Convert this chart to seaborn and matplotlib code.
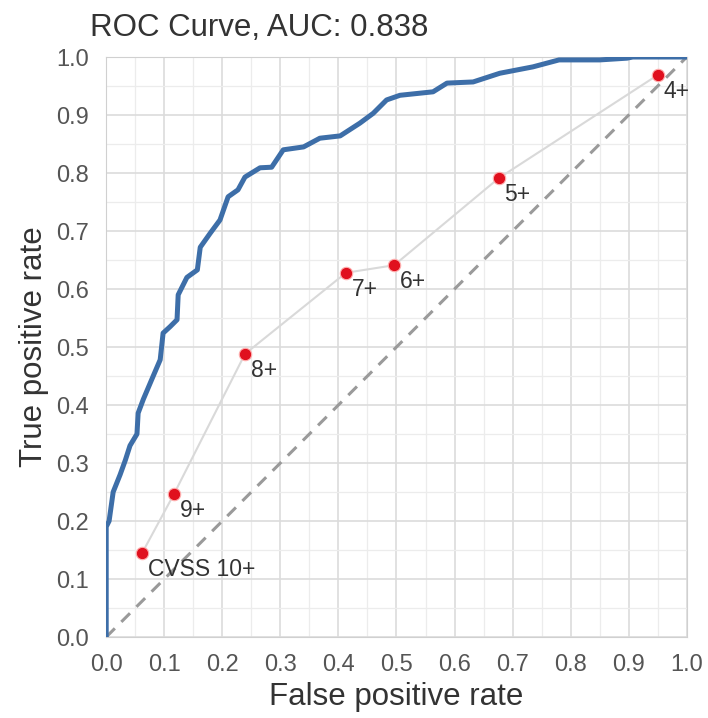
import numpy as np
import pandas as pd
import seaborn as sns
import matplotlib.pyplot as plt
from matplotlib.ticker import MultipleLocator

# ROC curve
fpr = [0, 0, 0.005, 0.012, 0.024, 0.033, 0.041, 0.053, 0.055, 0.064, 0.081, 0.093,
       0.098, 0.11, 0.122, 0.124, 0.139, 0.157, 0.162, 0.179, 0.196, 0.21, 0.227,
       0.239, 0.265, 0.285, 0.305, 0.34, 0.368, 0.403, 0.437, 0.46, 0.483, 0.506,
       0.563, 0.587, 0.632, 0.678, 0.735, 0.78, 0.85, 0.897, 0.907, 1.0]
tpr = [0, 0.19, 0.2, 0.25, 0.28, 0.305, 0.33, 0.35, 0.386, 0.41, 0.45, 0.478,
       0.524, 0.535, 0.547, 0.59, 0.62, 0.633, 0.672, 0.696, 0.719, 0.759, 0.771,
       0.793, 0.809, 0.81, 0.84, 0.845, 0.86, 0.864, 0.886, 0.903, 0.926, 0.934,
       0.94, 0.955, 0.957, 0.972, 0.983, 0.995, 0.995, 0.998, 1.0, 1.0]

# CVSS threshold points
cvss_labels = ['CVSS 10+', '9+', '8+', '7+', '6+', '5+', '4+']
cvss_fpr = [0.062, 0.117, 0.239, 0.413, 0.496, 0.676, 0.95]
cvss_tpr = [0.145, 0.247, 0.488, 0.628, 0.641, 0.791, 0.969]

auc = 0.838

sns.set_style('whitegrid')
plt.rcParams['font.family'] = ['Liberation Sans', 'DejaVu Sans']

fig = plt.figure(figsize=(7.08, 7.18), dpi=100)
ax = fig.add_axes([0.150, 0.1128, 0.820, 0.8078])

ax.xaxis.set_major_locator(MultipleLocator(0.1))
ax.yaxis.set_major_locator(MultipleLocator(0.1))
ax.xaxis.set_minor_locator(MultipleLocator(0.05))
ax.yaxis.set_minor_locator(MultipleLocator(0.05))
ax.grid(which='major', color='#dcdcdc', linewidth=1.2)
ax.grid(which='minor', color='#ececec', linewidth=0.9)
ax.set_axisbelow(True)

ax.plot([0, 1], [0, 1], color='#9a9a9a', linestyle=(0, (4, 3)), linewidth=2.2)

cvss = pd.DataFrame({'fpr': cvss_fpr, 'tpr': cvss_tpr, 'label': cvss_labels})
ax.plot(cvss['fpr'], cvss['tpr'], color='#d9d9d9', linewidth=1.5, zorder=2)

roc = pd.DataFrame({'fpr': fpr, 'tpr': tpr})
sns.lineplot(data=roc, x='fpr', y='tpr', sort=False, estimator=None, ax=ax,
             color='#3d6ea8', linewidth=3.6, zorder=3)

sns.scatterplot(data=cvss, x='fpr', y='tpr', ax=ax, color='#e0101e', s=80,
                edgecolor='#ffb0b0', linewidth=0.8, zorder=4)
for _, r in cvss.iterrows():
    ax.annotate(r['label'], (r['fpr'], r['tpr']), xytext=(4, -12),
                textcoords='offset points', fontsize=16.5, color='#333333',
                va='center', ha='left')

ax.set_xlim(0, 1)
ax.set_ylim(0, 1)
ax.tick_params(axis='both', labelsize=17, labelcolor='#555555', pad=9)
ax.set_xlabel('False positive rate', fontsize=22.5, color='#333333', labelpad=4)
ax.set_ylabel('True positive rate', fontsize=22.5, color='#333333', labelpad=5)
ax.set_title('ROC Curve, AUC: %.3f' % auc, loc='left', x=-0.028, fontsize=22.5,
             color='#333333', pad=15)
for s in ax.spines.values():
    s.set_color('#d0d0d0')

fig.savefig('out.png', dpi=100)
